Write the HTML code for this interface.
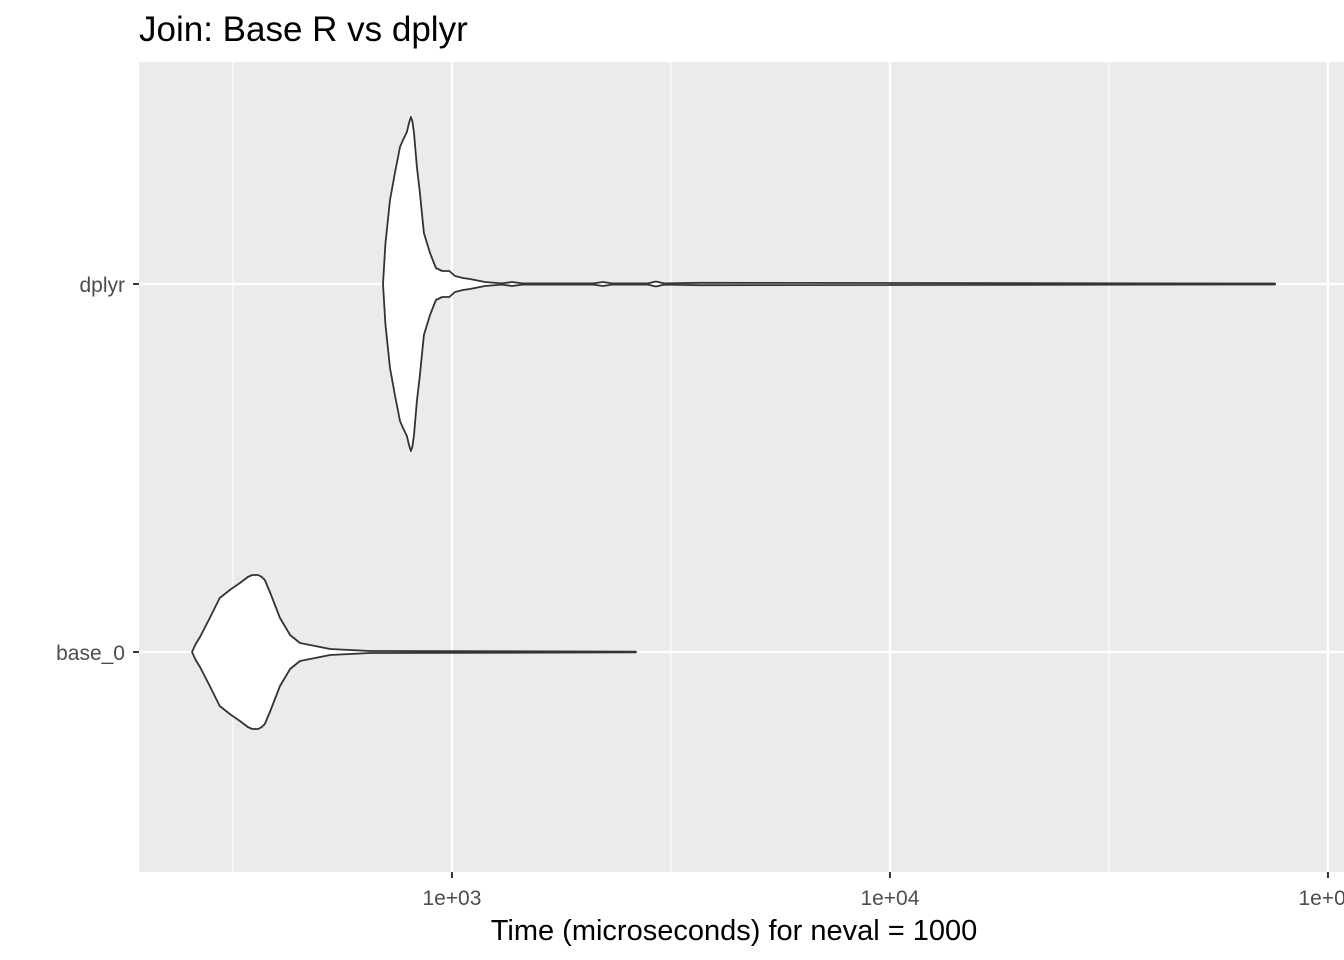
<!DOCTYPE html>
<html><head><meta charset="utf-8"><style>
body{margin:0;background:#fff;}
svg{display:block;font-family:"Liberation Sans",sans-serif;}
</style></head><body>
<svg id="chart" width="1344" height="960">
<text x="139" y="41" font-size="35" fill="#000">Join: Base R vs dplyr</text>
<rect x="139" y="62" width="1205" height="810" fill="#ebebeb"/>
<g id="grid"></g><g id="violins"></g><g id="axes"></g>
<text x="734" y="940" text-anchor="middle" font-size="29" fill="#000">Time (microseconds) for neval = 1000</text>
</svg>
<script>
const categories = ["base_0", "dplyr"];
const xTicks = [1000, 10000, 100000];
const xTickLabels = ["1e+03", "1e+04", "1e+05"];
const xMinor = [316.2, 3162, 31623];
const dplyrTimes = [696,705,722,741,761,773,789,798,806,812,819,832,845,863,891,919,950,986,1016,1060,1099,1190,1300,1371,1450,2100,2212,2320,2800,2923,3050,3683,75700];
const dplyrDensity = [0,40,84,111,137,144,152,161,167,163,151,117,91,51,31,16,13,13,8,6,5,2,0.6,2,0.6,0.6,2,0.6,0.6,2.5,0.6,1.2,0.5];
const baseTimes = [255,260,266,280,295,311,328,342,350,361,368,374,384,405,427,450,487,527,650,2630];
const baseDensity = [0,8,15,34,54,62,69,75,77,77,75,72,60,34,17,9,6,3,1,0.4];

const NS="http://www.w3.org/2000/svg";
const xMin=193, xMax=108800, pxL=139, pxR=1344;
function xs(v){return pxL+(Math.log10(v)-Math.log10(xMin))/(Math.log10(xMax)-Math.log10(xMin))*(pxR-pxL);}
const yMap={"base_0":652,"dplyr":284};
function ys(c){return yMap[c];}
function ws(d){return d;}
const grid=document.getElementById('grid'),vg=document.getElementById('violins'),ax=document.getElementById('axes');
function mk(t,a,p){const e=document.createElementNS(NS,t);for(const k in a)e.setAttribute(k,a[k]);p.appendChild(e);return e;}
xMinor.forEach(v=>{const l=mk('line',{x1:xs(v),x2:xs(v),y1:62,y2:872,stroke:'#fff','stroke-width':1.1},grid);

});
xTicks.forEach((v,i)=>{const l=mk('line',{x1:xs(v),x2:xs(v),y1:62,y2:872,stroke:'#fff','stroke-width':2.2},grid);


const t=mk('line',{x1:xs(v),x2:xs(v),y1:872,y2:878,stroke:'#333','stroke-width':2},ax);


const tx=mk('text',{x:xs(v),y:905,'text-anchor':'middle','font-size':21,fill:'#4d4d4d'},ax);tx.textContent=xTickLabels[i];

});
categories.forEach(c=>{const l=mk('line',{x1:139,x2:1344,y1:ys(c),y2:ys(c),stroke:'#fff','stroke-width':2.2},grid);


const t=mk('line',{x1:133,x2:139,y1:ys(c),y2:ys(c),stroke:'#333','stroke-width':2},ax);


const tx=mk('text',{x:125,y:ys(c)+8,'text-anchor':'end','font-size':21,fill:'#4d4d4d'},ax);tx.textContent=c;

});
function violin(c,times,dens,name){const y=ys(c);let top=[],bot=[];
times.forEach((t,i)=>{top.push(xs(t).toFixed(1)+','+(y-ws(dens[i])).toFixed(1));bot.unshift(xs(t).toFixed(1)+','+(y+ws(dens[i])).toFixed(1));});
const p=mk('path',{d:'M'+top.join('L')+'L'+bot.join('L')+'Z',fill:'#fff',stroke:'#333','stroke-width':1.8,'stroke-linejoin':'round'},vg);

}
violin('dplyr',dplyrTimes,dplyrDensity,'violin-dplyr');
violin('base_0',baseTimes,baseDensity,'violin-base-0');
</script>
</body></html>
